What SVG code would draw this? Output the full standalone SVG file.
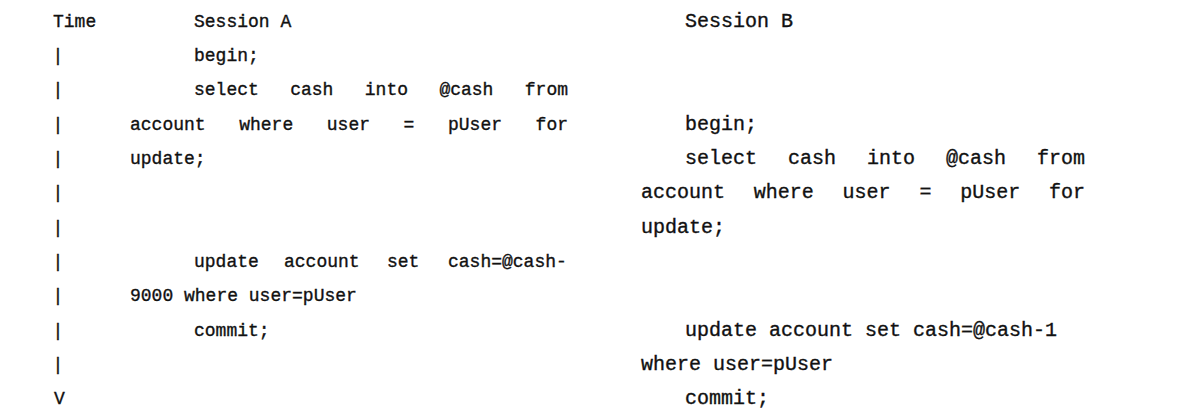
<svg xmlns="http://www.w3.org/2000/svg" width="1186" height="419" viewBox="0 0 1186 419">
<style>
text{font-family:"Liberation Mono","Courier New",monospace;fill:#111;stroke:#111;stroke-width:0.35px;white-space:pre}
.l{font-size:18px}
.r{font-size:20px}
</style>
<rect width="1186" height="419" fill="#fff"/>
<g id="time-axis">
<text class="l" x="53" y="27">Time</text>
<text class="l" x="52.6" y="61">|</text>
<text class="l" x="52.6" y="95">|</text>
<text class="l" x="52.6" y="130">|</text>
<text class="l" x="52.6" y="164">|</text>
<text class="l" x="52.6" y="198">|</text>
<text class="l" x="52.6" y="233">|</text>
<text class="l" x="52.6" y="267">|</text>
<text class="l" x="52.6" y="301">|</text>
<text class="l" x="52.6" y="336">|</text>
<text class="l" x="52.6" y="370">|</text>
<text class="l" x="54" y="404">V</text>
</g>
<g id="session-a">
<text class="l" x="194" y="27">Session A</text>
<text class="l" x="194" y="61">begin;</text>
<text class="l" y="95"><tspan x="194">select</tspan><tspan x="290.2">cash</tspan><tspan x="364.8">into</tspan><tspan x="439.4">@cash</tspan><tspan x="524.8">from</tspan></text>
<text class="l" y="130"><tspan x="130">account</tspan><tspan x="239.2">where</tspan><tspan x="326.8">user</tspan><tspan x="403.6">=</tspan><tspan x="448">pUser</tspan><tspan x="535.6">for</tspan></text>
<text class="l" x="130" y="164">update;</text>
<text class="l" y="267"><tspan x="194">update</tspan><tspan x="284">account</tspan><tspan x="387">set</tspan><tspan x="448">cash=@cash-</tspan></text>
<text class="l" x="130" y="301">9000 where user=pUser</text>
<text class="l" x="194" y="336">commit;</text>
</g>
<g id="session-b">
<text class="r" x="685" y="27">Session B</text>
<text class="r" x="685" y="130">begin;</text>
<text class="r" y="164"><tspan x="685">select</tspan><tspan x="788">cash</tspan><tspan x="867">into</tspan><tspan x="946">@cash</tspan><tspan x="1037">from</tspan></text>
<text class="r" y="198"><tspan x="641">account</tspan><tspan x="753.8">where</tspan><tspan x="842.6">user</tspan><tspan x="919.4">=</tspan><tspan x="960.2">pUser</tspan><tspan x="1049">for</tspan></text>
<text class="r" x="641" y="233">update;</text>
<text class="r" x="685" y="336">update account set cash=@cash-1</text>
<text class="r" x="641" y="370">where user=pUser</text>
<text class="r" x="685" y="404">commit;</text>
</g>
<g id="connectors"></g>
</svg>
